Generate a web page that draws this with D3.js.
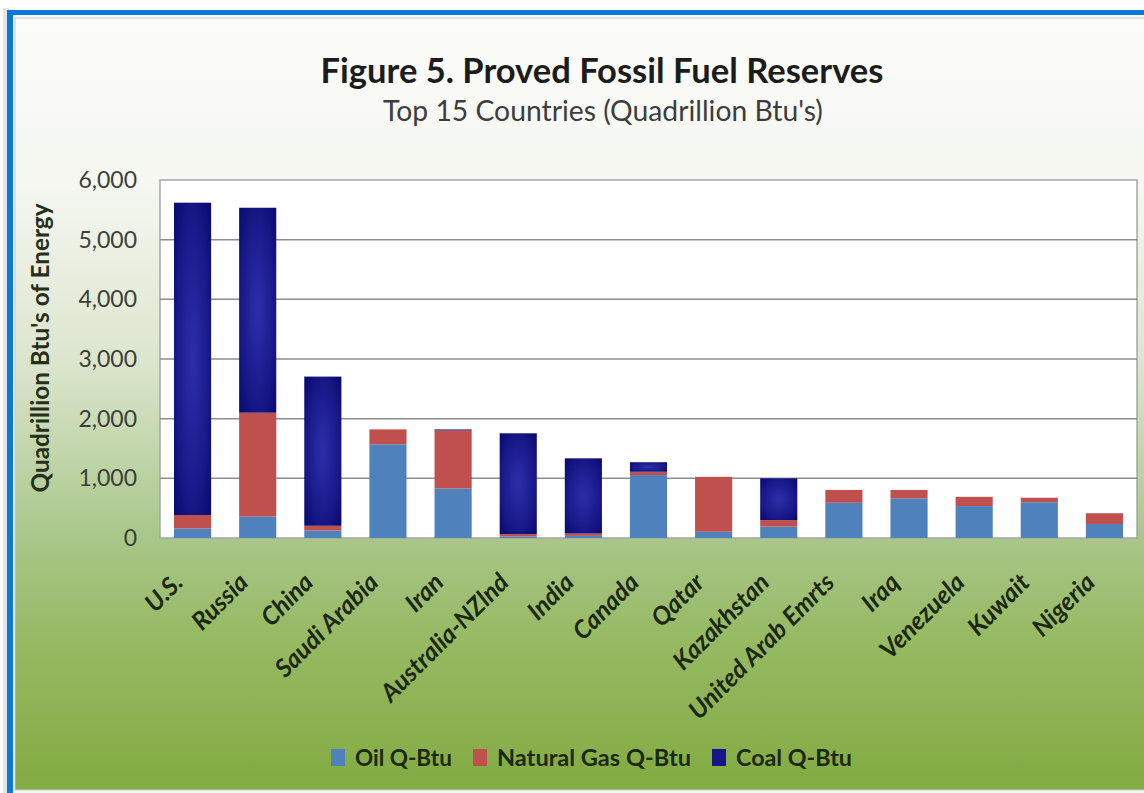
<!DOCTYPE html>
<html>
<head>
<meta charset="utf-8">
<script src="https://cdn.jsdelivr.net/npm/d3@7"></script>
<style>
  html, body { margin: 0; padding: 0; background: #ffffff; }
  svg { display: block; }
  text { font-family: Lato, "Open Sans", "Liberation Sans", sans-serif; }
</style>
</head>
<body>
<svg id="chart" width="1144" height="793"></svg>
<script>
// Proved fossil fuel reserves, top 15 countries (quadrillion Btu)
const countries = ["U.S.", "Russia", "China", "Saudi Arabia", "Iran", "Australia-NZlnd", "India",
  "Canada", "Qatar", "Kazakhstan", "United Arab Emrts", "Iraq", "Venezuela", "Kuwait", "Nigeria"];
const oil   = [160, 360, 125, 1570, 830, 25, 35, 1055, 105, 190, 590, 665, 535, 600, 235];
const gas   = [225, 1740, 80, 250, 975, 40, 40, 55, 920, 110, 215, 140, 155, 75, 180];
const coal  = [5235, 3435, 2500, 0, 15, 1690, 1260, 160, 0, 700, 0, 0, 0, 0, 0];
const seriesNames = ["Oil Q-Btu", "Natural Gas Q-Btu", "Coal Q-Btu"];
const yTicks = [0, 1000, 2000, 3000, 4000, 5000, 6000];

const titleText = "Figure 5. Proved Fossil Fuel Reserves";
const subtitleText = "Top 15 Countries (Quadrillion Btu's)";
const yTitleText = "Quadrillion Btu's of Energy";

const svg = d3.select("#chart");
const defs = svg.append("defs");

// panel background: near white at top fading to green at the bottom
const bg = defs.append("linearGradient").attr("id", "panelBg")
  .attr("x1", 0).attr("y1", 0).attr("x2", 0).attr("y2", 1);
[[0, "#fcfcfa"], [0.22, "#f5f7f0"], [0.45, "#dbe5cc"], [0.67, "#a9c78a"], [0.8, "#97ba64"], [1, "#82ab41"]]
  .forEach(([o, c]) => bg.append("stop").attr("offset", o).attr("stop-color", c));

// coal bars are shaded darker at the edges
const coalGrad = defs.append("radialGradient").attr("id", "coalFill")
  .attr("cx", "50%").attr("cy", "50%").attr("r", "75%");
coalGrad.append("stop").attr("offset", 0).attr("stop-color", "#2e2eaa");
coalGrad.append("stop").attr("offset", 0.55).attr("stop-color", "#1a1a8c");
coalGrad.append("stop").attr("offset", 1).attr("stop-color", "#06066a");

const colors = ["#4f81bd", "#c0504d", "url(#coalFill)"];
const legendColors = ["#4f81bd", "#c0504d", "#16168a"];

// frame: blue outline and the chart panel
svg.append("rect").attr("x", 0).attr("y", 0).attr("width", 1144).attr("height", 793).attr("fill", "#ffffff");
svg.append("rect").attr("x", 3).attr("y", 8).attr("width", 6).attr("height", 785).attr("fill", "#e2e4e6");
svg.append("rect").attr("x", 7).attr("y", 10).attr("width", 1150).attr("height", 790).attr("fill", "#0a7ad6");
svg.append("rect").attr("x", 13).attr("y", 15).attr("width", 1150).attr("height", 790).attr("fill", "#f4f6f8");
svg.append("rect").attr("x", 15).attr("y", 18).attr("width", 1150).attr("height", 772)
  .attr("fill", "url(#panelBg)").attr("stroke", "#c9ccc4").attr("stroke-width", 1);

// plot area
const plot = { left: 160, right: 1137, top: 180, bottom: 538 };
const x = d3.scaleBand().domain(countries).range([plot.left, plot.right])
  .paddingInner(0.43).paddingOuter(0.215);
const y = d3.scaleLinear().domain([0, 6000]).range([plot.bottom, plot.top]);

svg.append("rect").attr("x", plot.left).attr("y", plot.top)
  .attr("width", plot.right - plot.left).attr("height", plot.bottom - plot.top)
  .attr("fill", "#ffffff").attr("stroke", "#a6a6a6").attr("stroke-width", 1.5);

// horizontal gridlines
svg.append("g").selectAll("line").data(yTicks.filter(t => t > 0 && t < 6000)).join("line")
  .attr("x1", plot.left).attr("x2", plot.right)
  .attr("y1", d => y(d)).attr("y2", d => y(d))
  .attr("stroke", "#8e8e8e").attr("stroke-width", 1.5);

// y axis labels
const yAxis = svg.append("g").attr("transform", `translate(${plot.left},0)`)
  .call(d3.axisLeft(y).tickValues(yTicks).tickFormat(d3.format(",")).tickSize(0).tickPadding(23));
yAxis.select(".domain").remove();
yAxis.selectAll("text").attr("font-family", "Lato, 'Open Sans', sans-serif")
  .attr("font-size", 23).attr("fill", "#3c3f38");

// stacked bars
const rows = countries.map((c, i) => ({ country: c, oil: oil[i], gas: gas[i], coal: coal[i] }));
const stack = d3.stack().keys(["oil", "gas", "coal"])(rows);
svg.append("g").selectAll("g").data(stack).join("g")
  .attr("fill", (d, i) => colors[i])
  .selectAll("rect").data(d => d.filter(p => p[1] > p[0])).join("rect")
  .attr("x", d => x(d.data.country))
  .attr("width", x.bandwidth())
  .attr("y", d => y(d[1]))
  .attr("height", d => y(d[0]) - y(d[1]));

// helper: scale a text's font size so it spans a given width
function fitWidth(sel, width) {
  const n = sel.node();
  const size = parseFloat(sel.attr("font-size"));
  const len = n.getComputedTextLength();
  sel.attr("font-size", size * width / len);
}

// titles
const title = svg.append("text").attr("x", 602).attr("y", 83).attr("text-anchor", "middle")
  .attr("font-size", 30).attr("font-weight", 700).attr("fill", "#1c1c1c").text(titleText);
fitWidth(title, 563);
const subtitle = svg.append("text").attr("x", 603).attr("y", 121).attr("text-anchor", "middle")
  .attr("font-size", 22).attr("fill", "#3d3d3d").text(subtitleText);
fitWidth(subtitle, 440);

// y axis title
const yTitle = svg.append("text")
  .attr("transform", "translate(49,348) rotate(-90)")
  .attr("text-anchor", "middle").attr("font-size", 19).attr("font-weight", 700)
  .attr("fill", "#26301c").text(yTitleText);
fitWidth(yTitle, 289);

// category labels, rotated
svg.append("g").selectAll("text").data(countries).join("text")
  .attr("transform", d => `translate(${x(d) + x.bandwidth() / 2 - 8},${plot.bottom + 46}) rotate(-45)`)
  .attr("text-anchor", "end")
  .attr("font-size", 25).attr("font-weight", 700).attr("font-style", "italic")
  .attr("fill", "#1d2812").text(d => d);

// legend
const legendItems = [
  { name: seriesNames[0], sx: 331, tx: 355, w: 97 },
  { name: seriesNames[1], sx: 473, tx: 497, w: 194 },
  { name: seriesNames[2], sx: 712, tx: 736, w: 116 }
];
const legend = svg.append("g");
legendItems.forEach((it, i) => {
  legend.append("rect").attr("x", it.sx).attr("y", 749).attr("width", 14).attr("height", 17)
    .attr("fill", legendColors[i]);
  const t = legend.append("text").attr("x", it.tx).attr("y", 766)
    .attr("font-size", 22).attr("font-weight", 700).attr("fill", "#1d2812").text(it.name);
  fitWidth(t, it.w);
});
</script>
</body>
</html>
